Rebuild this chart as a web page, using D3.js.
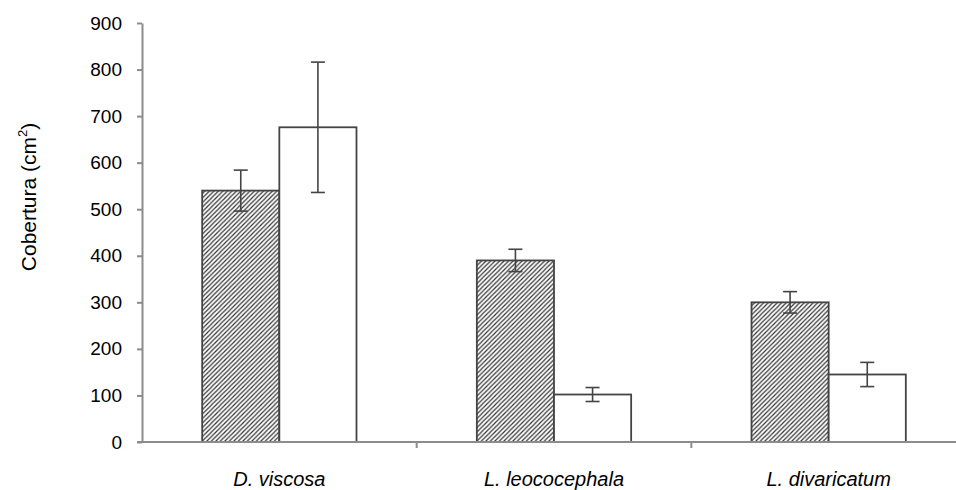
<!DOCTYPE html>
<html>
<head>
<meta charset="utf-8">
<script src="https://d3js.org/d3.v7.min.js"></script>
<style>
  body { margin: 0; background: #fff; }
  text { font-family: "Liberation Sans", Arial, sans-serif; }
</style>
</head>
<body>
<svg width="956" height="490"></svg>
<script>
var categories = ["D. viscosa", "L. leococephala", "L. divaricatum"];
var series = ["hatched", "open"];
var hatchedValues = [540, 390, 300];
var hatchedErrors = [44, 24, 23];
var openValues = [676, 102, 145];
var openErrors = [140, 15, 26];
var yTicks = [0, 100, 200, 300, 400, 500, 600, 700, 800, 900];

var svg = d3.select("svg");
var plotLeft = 142, plotRight = 966, plotTop = 23, plotBottom = 442;

var defs = svg.append("defs");
var pat = defs.append("pattern")
    .attr("id", "hatch")
    .attr("patternUnits", "userSpaceOnUse")
    .attr("width", 4.5).attr("height", 4.5);
pat.append("rect").attr("width", 4.5).attr("height", 4.5).attr("fill", "#fff");
pat.append("path")
    .attr("d", "M-1,1 l2,-2 M0,4.5 l4.5,-4.5 M3.5,5.5 l2,-2")
    .attr("stroke", "#333")
    .attr("stroke-width", 1.2);

var x0 = d3.scaleBand().domain(categories).range([plotLeft, plotRight]);
var x1 = d3.scaleBand().domain(series).range([0, x0.bandwidth()]).paddingOuter(0.78);
var y = d3.scaleLinear().domain([0, 900]).range([plotBottom, plotTop]);

var flat = [];
categories.forEach(function(c, i) {
  flat.push({cat: c, s: "hatched", v: hatchedValues[i], e: hatchedErrors[i]});
  flat.push({cat: c, s: "open", v: openValues[i], e: openErrors[i]});
});

// bars
svg.append("g").selectAll("rect")
  .data(flat).enter().append("rect")
    .attr("x", function(d) { return x0(d.cat) + x1(d.s); })
    .attr("y", function(d) { return y(d.v); })
    .attr("width", x1.bandwidth())
    .attr("height", function(d) { return y(0) - y(d.v); })
    .attr("fill", function(d) { return d.s === "hatched" ? "url(#hatch)" : "#fff"; })
    .attr("stroke", "#444")
    .attr("stroke-width", 1.8);

// error bars
var eb = svg.append("g").attr("stroke", "#444").attr("stroke-width", 1.6);
flat.forEach(function(d) {
  var cx = x0(d.cat) + x1(d.s) + x1.bandwidth() / 2;
  eb.append("line").attr("x1", cx).attr("x2", cx).attr("y1", y(d.v + d.e)).attr("y2", y(d.v - d.e));
  eb.append("line").attr("x1", cx - 7).attr("x2", cx + 7).attr("y1", y(d.v + d.e)).attr("y2", y(d.v + d.e));
  eb.append("line").attr("x1", cx - 7).attr("x2", cx + 7).attr("y1", y(d.v - d.e)).attr("y2", y(d.v - d.e));
});

// y axis
var yAxis = svg.append("g")
    .attr("transform", "translate(" + plotLeft + ",0)")
    .call(d3.axisLeft(y).tickValues(yTicks).tickSize(5).tickSizeOuter(0).tickPadding(15));
yAxis.select(".domain").attr("stroke", "#8c8c8c").attr("stroke-width", 2);
yAxis.selectAll(".tick line").attr("stroke", "#8c8c8c").attr("stroke-width", 2);
yAxis.selectAll(".tick text").attr("font-size", 19).attr("fill", "#000")
    .attr("font-family", "Liberation Sans, Arial, sans-serif");

// x axis
var xg = svg.append("g").attr("transform", "translate(0," + plotBottom + ")");
xg.append("line").attr("x1", plotLeft - 5).attr("x2", plotRight).attr("stroke", "#8c8c8c").attr("stroke-width", 2);
xg.selectAll(".ctick").data(categories.slice(1)).enter().append("line")
    .attr("x1", function(c) { return x0(c); })
    .attr("x2", function(c) { return x0(c); })
    .attr("y1", 0).attr("y2", 6)
    .attr("stroke", "#8c8c8c").attr("stroke-width", 2);
xg.selectAll(".clabel").data(categories).enter().append("text")
    .attr("x", function(c) { return x0(c) + x0.bandwidth() / 2; })
    .attr("y", 44)
    .attr("text-anchor", "middle")
    .attr("font-size", 20)
    .attr("font-style", "italic")
    .text(function(c) { return c; });

// y title
var title = svg.append("text")
    .attr("transform", "translate(36,197) rotate(-90)")
    .attr("text-anchor", "middle")
    .attr("font-size", 21);
title.append("tspan").text("Cobertura (cm");
title.append("tspan").attr("font-size", 13).attr("dy", -9).text("2");
title.append("tspan").attr("dy", 9).text(")");
</script>
</body>
</html>
